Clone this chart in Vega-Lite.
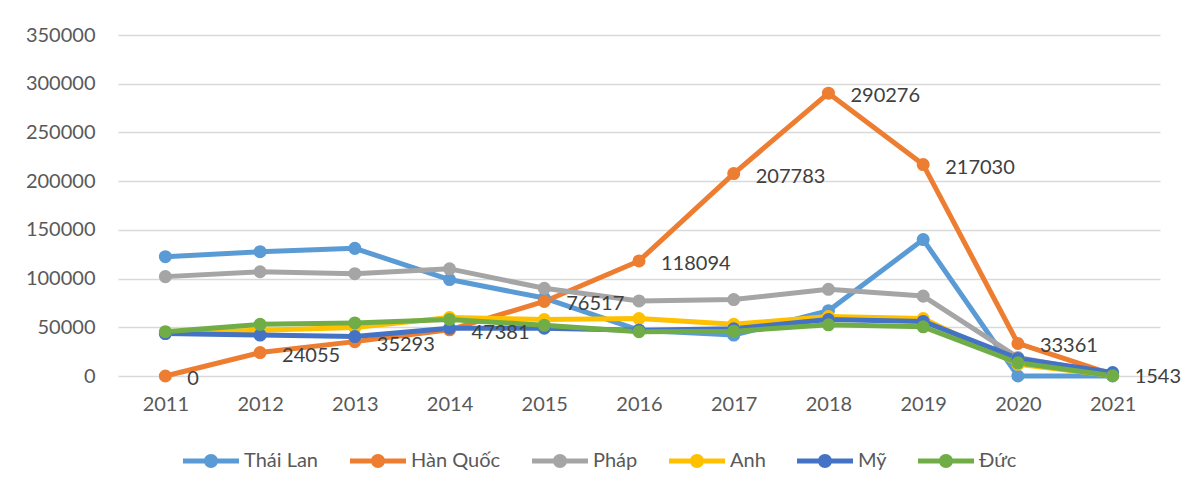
{
  "$schema": "https://vega.github.io/schema/vega-lite/v6.json",
  "width": 1042,
  "height": 341,
  "autosize": {"type": "none"},
  "padding": {"left": 118, "top": 35, "right": 31, "bottom": 120},
  "background": "white",
  "config": {
    "font": "Lato",
    "view": {"stroke": null},
    "axis": {"labelFont": "Lato", "labelFontSize": 20, "labelColor": "#595959", "ticks": false, "tickSize": 0, "domain": false, "title": null}
  },
  "data": {
    "values": [
      {"nam": "2011", "quoc_gia": "Thái Lan", "so_luong": 122500},
      {"nam": "2012", "quoc_gia": "Thái Lan", "so_luong": 127600},
      {"nam": "2013", "quoc_gia": "Thái Lan", "so_luong": 131000},
      {"nam": "2014", "quoc_gia": "Thái Lan", "so_luong": 99000},
      {"nam": "2015", "quoc_gia": "Thái Lan", "so_luong": 80000},
      {"nam": "2016", "quoc_gia": "Thái Lan", "so_luong": 47000},
      {"nam": "2017", "quoc_gia": "Thái Lan", "so_luong": 42000},
      {"nam": "2018", "quoc_gia": "Thái Lan", "so_luong": 67000},
      {"nam": "2019", "quoc_gia": "Thái Lan", "so_luong": 140000},
      {"nam": "2020", "quoc_gia": "Thái Lan", "so_luong": 0},
      {"nam": "2021", "quoc_gia": "Thái Lan", "so_luong": 0},
      {"nam": "2011", "quoc_gia": "Hàn Quốc", "so_luong": 0},
      {"nam": "2012", "quoc_gia": "Hàn Quốc", "so_luong": 24055},
      {"nam": "2013", "quoc_gia": "Hàn Quốc", "so_luong": 35293},
      {"nam": "2014", "quoc_gia": "Hàn Quốc", "so_luong": 47381},
      {"nam": "2015", "quoc_gia": "Hàn Quốc", "so_luong": 76517},
      {"nam": "2016", "quoc_gia": "Hàn Quốc", "so_luong": 118094},
      {"nam": "2017", "quoc_gia": "Hàn Quốc", "so_luong": 207783},
      {"nam": "2018", "quoc_gia": "Hàn Quốc", "so_luong": 290276},
      {"nam": "2019", "quoc_gia": "Hàn Quốc", "so_luong": 217030},
      {"nam": "2020", "quoc_gia": "Hàn Quốc", "so_luong": 33361},
      {"nam": "2021", "quoc_gia": "Hàn Quốc", "so_luong": 1543},
      {"nam": "2011", "quoc_gia": "Pháp", "so_luong": 102000},
      {"nam": "2012", "quoc_gia": "Pháp", "so_luong": 107000},
      {"nam": "2013", "quoc_gia": "Pháp", "so_luong": 105000},
      {"nam": "2014", "quoc_gia": "Pháp", "so_luong": 110000},
      {"nam": "2015", "quoc_gia": "Pháp", "so_luong": 90000},
      {"nam": "2016", "quoc_gia": "Pháp", "so_luong": 77000},
      {"nam": "2017", "quoc_gia": "Pháp", "so_luong": 78500},
      {"nam": "2018", "quoc_gia": "Pháp", "so_luong": 89000},
      {"nam": "2019", "quoc_gia": "Pháp", "so_luong": 82000},
      {"nam": "2020", "quoc_gia": "Pháp", "so_luong": 19000},
      {"nam": "2021", "quoc_gia": "Pháp", "so_luong": 1500},
      {"nam": "2011", "quoc_gia": "Anh", "so_luong": 43600},
      {"nam": "2012", "quoc_gia": "Anh", "so_luong": 47000},
      {"nam": "2013", "quoc_gia": "Anh", "so_luong": 49700},
      {"nam": "2014", "quoc_gia": "Anh", "so_luong": 60000},
      {"nam": "2015", "quoc_gia": "Anh", "so_luong": 58000},
      {"nam": "2016", "quoc_gia": "Anh", "so_luong": 59000},
      {"nam": "2017", "quoc_gia": "Anh", "so_luong": 53000},
      {"nam": "2018", "quoc_gia": "Anh", "so_luong": 61000},
      {"nam": "2019", "quoc_gia": "Anh", "so_luong": 59000},
      {"nam": "2020", "quoc_gia": "Anh", "so_luong": 12000},
      {"nam": "2021", "quoc_gia": "Anh", "so_luong": 500},
      {"nam": "2011", "quoc_gia": "Mỹ", "so_luong": 43600},
      {"nam": "2012", "quoc_gia": "Mỹ", "so_luong": 42000},
      {"nam": "2013", "quoc_gia": "Mỹ", "so_luong": 40500},
      {"nam": "2014", "quoc_gia": "Mỹ", "so_luong": 49000},
      {"nam": "2015", "quoc_gia": "Mỹ", "so_luong": 49000},
      {"nam": "2016", "quoc_gia": "Mỹ", "so_luong": 47000},
      {"nam": "2017", "quoc_gia": "Mỹ", "so_luong": 48500},
      {"nam": "2018", "quoc_gia": "Mỹ", "so_luong": 58000},
      {"nam": "2019", "quoc_gia": "Mỹ", "so_luong": 56000},
      {"nam": "2020", "quoc_gia": "Mỹ", "so_luong": 18000},
      {"nam": "2021", "quoc_gia": "Mỹ", "so_luong": 3500},
      {"nam": "2011", "quoc_gia": "Đức", "so_luong": 45500},
      {"nam": "2012", "quoc_gia": "Đức", "so_luong": 53000},
      {"nam": "2013", "quoc_gia": "Đức", "so_luong": 54500},
      {"nam": "2014", "quoc_gia": "Đức", "so_luong": 58000},
      {"nam": "2015", "quoc_gia": "Đức", "so_luong": 52000},
      {"nam": "2016", "quoc_gia": "Đức", "so_luong": 45500},
      {"nam": "2017", "quoc_gia": "Đức", "so_luong": 46000},
      {"nam": "2018", "quoc_gia": "Đức", "so_luong": 52500},
      {"nam": "2019", "quoc_gia": "Đức", "so_luong": 50500},
      {"nam": "2020", "quoc_gia": "Đức", "so_luong": 13500},
      {"nam": "2021", "quoc_gia": "Đức", "so_luong": 300}
    ]
  },
  "encoding": {
    "x": {
      "field": "nam", "type": "ordinal",
      "scale": {"type": "point", "padding": 0.5},
      "axis": {"labelAngle": 0, "labelPadding": 18, "grid": false}
    },
    "y": {
      "field": "so_luong", "type": "quantitative",
      "scale": {"domain": [0, 350000], "nice": false},
      "axis": {"values": [0, 50000, 100000, 150000, 200000, 250000, 300000, 350000], "format": "d", "labelPadding": 23, "grid": true, "gridColor": "#D9D9D9", "gridWidth": 1.3}
    }
  },
  "layer": [
    {
      "mark": {"type": "line", "strokeWidth": 5, "strokeCap": "round", "strokeJoin": "round"},
      "encoding": {
        "color": {
          "field": "quoc_gia", "type": "nominal",
          "scale": {"domain": ["Thái Lan", "Hàn Quốc", "Pháp", "Anh", "Mỹ", "Đức"], "range": ["#5B9BD5", "#ED7D31", "#A5A5A5", "#FFC000", "#4472C4", "#70AD47"]},
          "legend": {
            "title": null,
            "orient": "none",
            "direction": "horizontal",
            "legendX": 65,
            "legendY": 398,
            "symbolType": "M-1,-0.09 L1,-0.09 L1,0.09 L-1,0.09 Z M-0.25,0 A0.25,0.25 0 1,1 0.25,0 A0.25,0.25 0 1,1 -0.25,0 Z",
            "symbolSize": 3136,
            "symbolStrokeWidth": 0,
            "symbolOpacity": 1,
            "labelFont": "Lato",
            "labelFontSize": 20,
            "labelColor": "#595959",
            "labelOffset": 5,
            "columnPadding": 31
          }
        }
      }
    },
    {
      "mark": {"type": "point", "filled": true, "size": 170, "opacity": 1, "shape": "circle"},
      "encoding": {
        "color": {
          "field": "quoc_gia", "type": "nominal"
        }
      }
    },
    {
      "transform": [{"filter": "datum.quoc_gia === 'Hàn Quốc'"}],
      "mark": {"type": "text", "align": "left", "baseline": "middle", "dx": 22, "dy": 3, "fontSize": 20, "font": "Lato", "color": "#404040"},
      "encoding": {
        "text": {"field": "so_luong", "type": "quantitative", "format": "d"}
      }
    }
  ]
}
